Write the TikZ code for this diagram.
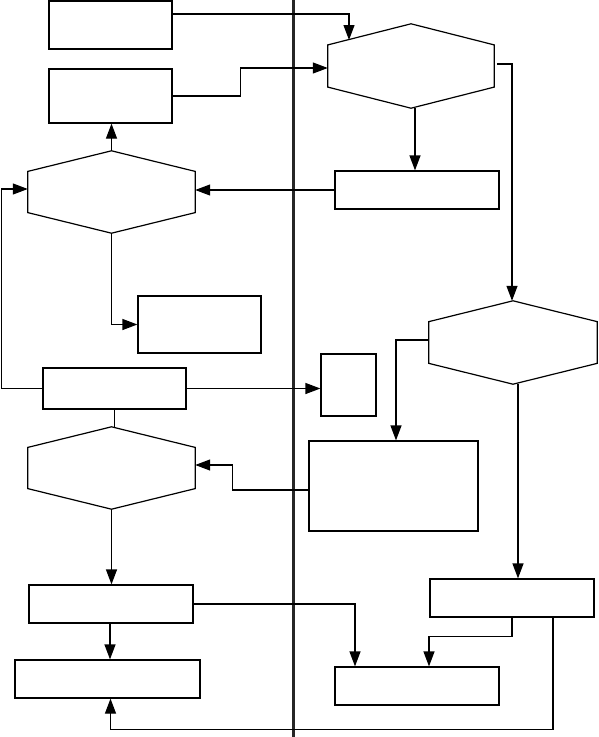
\documentclass[tikz,border=0pt]{standalone}
\usetikzlibrary{arrows.meta,calc}
\tikzset{
  boxnode/.style={draw=black,line width=1.2pt,inner sep=0pt,fill=white},
  hexnode/.style={inner sep=0pt},
  shapeline/.style={draw=black,line width=1.2pt},
  conn/.style={draw=black,line width=1.2pt},
  arr/.style={conn,-{Triangle[length=15pt,width=11pt]}},
  divider/.style={draw=black!85,line width=3pt}
}
\newcommand\hexdraw[1]{\draw[shapeline] (#1.north)
  -- ($(#1.north east)!0.25!(#1.south east)$)
  -- ($(#1.north east)!0.75!(#1.south east)$)
  -- (#1.south)
  -- ($(#1.north west)!0.75!(#1.south west)$)
  -- ($(#1.north west)!0.25!(#1.south west)$) -- cycle;}
\begin{document}
\begin{tikzpicture}[x=1pt,y=-1pt]
\useasboundingbox (0,0) rectangle (598,737);
% divider
\coordinate (dtop) at (293,0);
\coordinate (dbot) at (293,737);
\draw[divider] (dtop) -- (dbot);
% left column
\node[boxnode,minimum width=123pt,minimum height=48pt] (A) at (110.5,25) {};
\node[boxnode,minimum width=123pt,minimum height=54pt] (B) at (110.5,96) {};
\node[hexnode,minimum width=167pt,minimum height=82pt] (C) at (111.5,192) {};
\node[boxnode,minimum width=123pt,minimum height=57pt] (F) at (199.5,324.5) {};
\node[boxnode,minimum width=143pt,minimum height=41pt] (E) at (114.5,388.5) {};
\node[hexnode,minimum width=167pt,minimum height=82pt] (H) at (111.5,468) {};
\node[boxnode,minimum width=164pt,minimum height=38pt] (J) at (111,604) {};
\node[boxnode,minimum width=185pt,minimum height=38pt] (K) at (107.5,679) {};
% right column
\node[hexnode,minimum width=166pt,minimum height=84pt] (N) at (411,66) {};
\node[boxnode,minimum width=164pt,minimum height=38pt] (D) at (417,190) {};
\node[hexnode,minimum width=168pt,minimum height=83pt] (O) at (513,342.5) {};
\node[boxnode,minimum width=55pt,minimum height=62pt] (G) at (348.5,385) {};
\node[boxnode,minimum width=169pt,minimum height=90pt] (I) at (393.5,486) {};
\node[boxnode,minimum width=164pt,minimum height=38pt] (L) at (512,598) {};
\node[boxnode,minimum width=164pt,minimum height=38pt] (M) at (417,686) {};
\hexdraw{C}\hexdraw{H}\hexdraw{N}\hexdraw{O}
% connectors
\coordinate (Ntop) at (349,40);
\draw[arr] ([yshift=11pt]A.east) -| (Ntop);
\draw[arr] (B.east) -- ++(68,0) |- ([yshift=-2pt]N.west);
\draw[arr] (C.north) -- (C.north |- B.south);
\draw[arr] (D.west) -- (D.west -| C.east);
\draw[arr] ([xshift=4pt]N.south) -- ([xshift=4pt]N.south |- D.north);
\draw[arr] ([xshift=3pt,yshift=2pt]N.east) -| ([xshift=-1pt]O.north);
\draw[arr] (C.south) |- (F.west);
\draw[arr] (E.west) -- ++(-41,0) |- ([yshift=3pt]C.west);
\draw[arr] (E.east) -- (E.east -| G.west);
\draw[conn] (E.south) -- (E.south |- H.north);
\draw[arr] ([yshift=-4pt]I.west) -- ++(-76,0) |- ([yshift=3pt]H.east);
\draw[arr] ([yshift=2.5pt]O.west) -| ([xshift=2.5pt]I.north);
\draw[arr] ([xshift=5pt]O.south) -- ([xshift=5pt]O.south |- L.north);
\draw[arr] (H.south) -- (H.south |- J.north);
\draw[arr] ([xshift=-1pt]J.south) -- ([xshift=-1pt]J.south |- K.north);
\draw[arr] (J.east) -| ([xshift=-62pt]M.north);
\draw[arr] (L.south) -- ++(0,19) -| ([xshift=12pt]M.north);
\draw[arr] ([xshift=41pt]L.south) -- ++(0,112) -| ([xshift=3pt]K.south);
\end{tikzpicture}
\end{document}
